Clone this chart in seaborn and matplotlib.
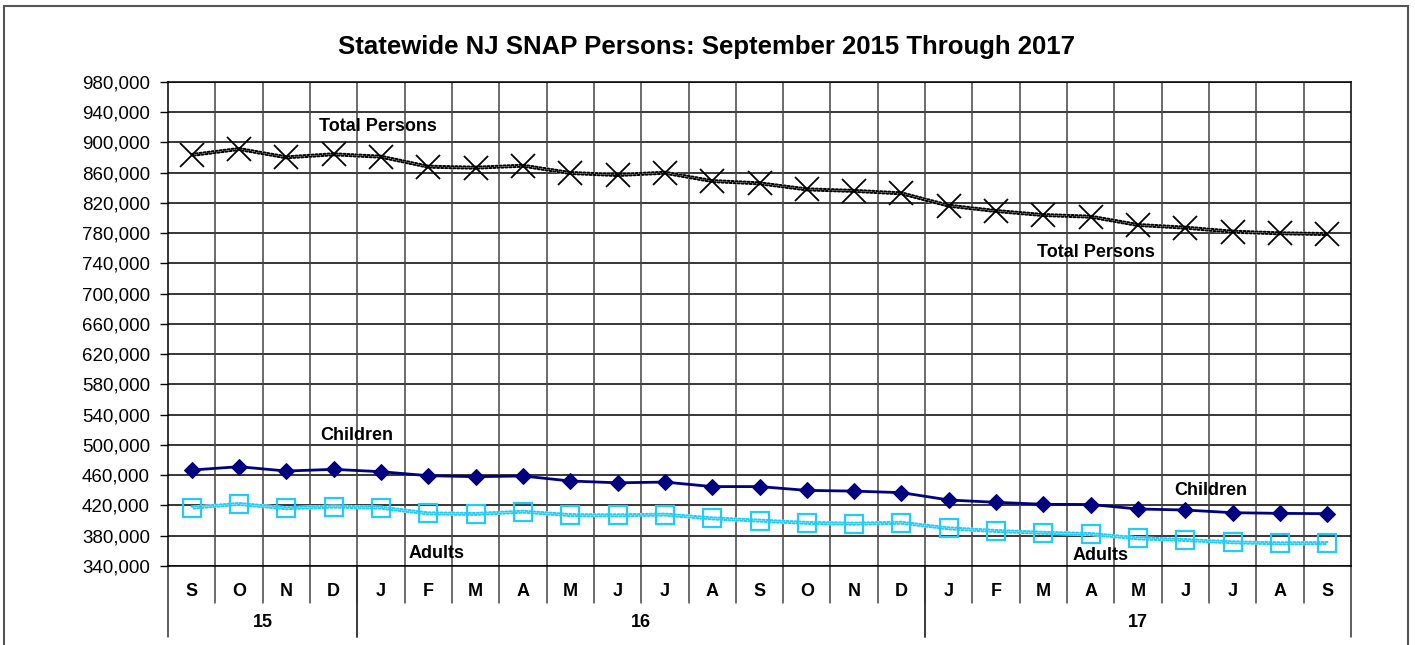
import numpy as np
import pandas as pd
import matplotlib
matplotlib.use("Agg")
import matplotlib.pyplot as plt
import matplotlib.transforms as mtransforms
from matplotlib import patheffects as pe
from matplotlib.ticker import FuncFormatter
import seaborn as sns

# data (Sep 2015 - Sep 2017)
months = ["S", "O", "N", "D", "J", "F", "M", "A", "M", "J", "J", "A", "S",
          "O", "N", "D", "J", "F", "M", "A", "M", "J", "J", "A", "S"]
years = ["15", "16", "17"]
year_spans = [(0, 3), (4, 15), (16, 24)]

total = [883500, 891400, 880400, 884400, 881200, 868000, 866700, 869300, 859700,
         857000, 860000, 849000, 846000, 838000, 836000, 832800, 816400, 809400,
         804100, 801900, 790900, 787400, 782100, 779900, 779000]
children = [466900, 471300, 465600, 467800, 464700, 459400, 458100, 459000, 452400,
            450000, 451000, 445000, 445000, 440000, 439000, 437000, 427300, 424200,
            421600, 421300, 415400, 414000, 410500, 409600, 409200]
adults = [417100, 422000, 416400, 418600, 417100, 409600, 408800, 411800, 407300,
          407000, 408000, 403000, 400000, 397000, 396000, 397200, 389800, 386300,
          383900, 382300, 376600, 374400, 371300, 370000, 370400]
y_ticks = np.arange(340000, 980001, 40000)

df = pd.DataFrame({"idx": np.arange(len(months)), "total": total,
                   "children": children, "adults": adults})

sns.set_style("white")
plt.rcParams['font.family'] = ['Liberation Sans', 'DejaVu Sans']
plt.rcParams['text.color'] = 'black'
plt.rcParams['ytick.color'] = 'black'
plt.rcParams['xtick.color'] = 'black'


def checker(color):
    # two rows of alternating dashes -> checkered band like the Excel pattern
    d = 1.45
    return [pe.Normal(),
            pe.Stroke(offset=(0, 0.72), linewidth=1.45, foreground=color,
                      dashes={"dash_offset": 0, "dash_list": [d, d]}),
            pe.Stroke(offset=(0, -0.72), linewidth=1.45, foreground=color,
                      dashes={"dash_offset": d, "dash_list": [d, d]})]


fig = plt.figure(figsize=(14.15, 6.45), dpi=100)
ax = fig.add_axes([168 / 1415, 1 - 566 / 645, (1351 - 168) / 1415, (566 - 82) / 645])

# outer frame
fig.patches.append(plt.Rectangle((4 / 1415, -0.05), 1404 / 1415, 1 - 6 / 645 + 0.05,
                                 transform=fig.transFigure, fill=False,
                                 edgecolor="#555555", linewidth=1.5))

# total persons: checkered black band with X markers
sns.lineplot(data=df, x="idx", y="total", ax=ax, color="white", linewidth=2.9,
             zorder=3)
ax.lines[-1].set_path_effects(checker("black"))
ax.plot(df["idx"], df["total"], linestyle="none", marker="x", markersize=17,
        markeredgewidth=1.3, color="black", zorder=5)

# children: navy with diamonds
sns.lineplot(data=df, x="idx", y="children", ax=ax, color="#000080", linewidth=2,
             marker="D", markersize=8, markeredgecolor="#000080", zorder=5)

# adults: checkered cyan band, hollow squares
sns.lineplot(data=df, x="idx", y="adults", ax=ax, color="white", linewidth=2.9,
             zorder=3)
ax.lines[-1].set_path_effects(checker("#22CCF5"))
ax.plot(df["idx"], df["adults"], linestyle="none", marker="s", markersize=12.5,
        markerfacecolor="none", markeredgecolor="#22CCF5", markeredgewidth=1.6,
        zorder=5)

ax.set_xlim(-0.5, len(months) - 0.5)
ax.set_ylim(y_ticks[0], y_ticks[-1])
ax.set_yticks(y_ticks)
ax.yaxis.set_major_formatter(FuncFormatter(lambda v, p: f"{int(v):,}"))
ax.tick_params(axis="y", labelsize=13.5, length=6, width=1, direction="out",
               left=True, color="black", pad=7)
ax.set_xticks([])
ax.set_xlabel("")
ax.set_ylabel("")

ax.grid(axis="y", color="black", linewidth=1.1)
for i in range(len(months) - 1):
    ax.axvline(i + 0.5, color="#444444", linewidth=1.1, zorder=1)
for s in ax.spines.values():
    s.set_visible(True)
    s.set_color("black")
    s.set_linewidth(1.1)

fig.text(706 / 1415, 1 - 47 / 645,
         "Statewide NJ SNAP Persons: September 2015 Through 2017",
         fontsize=18.5, fontweight="bold", ha="center", va="center")

# category axis below the plot
trans = mtransforms.blended_transform_factory(ax.transData, ax.transAxes)
for i, m in enumerate(months):
    ax.text(i, -0.052, m, transform=trans, ha="center", va="center",
            fontsize=13, fontweight="bold")
    if i < len(months) - 1:
        ax.plot([i + 0.5, i + 0.5], [0, -0.077], transform=trans, color="#444444",
                linewidth=1.1, clip_on=False)
for y, (a, b) in zip(years, year_spans):
    ax.text((a + b) / 2, -0.117, y, transform=trans, ha="center", va="center",
            fontsize=13, fontweight="bold")
    for edge in (a - 0.5, b + 0.5):
        ax.plot([edge, edge], [0, -0.147], transform=trans, color="#333333",
                linewidth=1.1, clip_on=False)

# series labels
lab = dict(fontsize=13, fontweight="bold", ha="center", va="center")
ax.text(3.93, 920500, "Total Persons", **lab)
ax.text(19.1, 755200, "Total Persons", **lab)
ax.text(3.49, 513200, "Children", **lab)
ax.text(21.53, 439200, "Children", **lab)
ax.text(5.18, 355900, "Adults", **lab)
ax.text(19.2, 353300, "Adults", **lab)

fig.savefig("out.png", dpi=100)
